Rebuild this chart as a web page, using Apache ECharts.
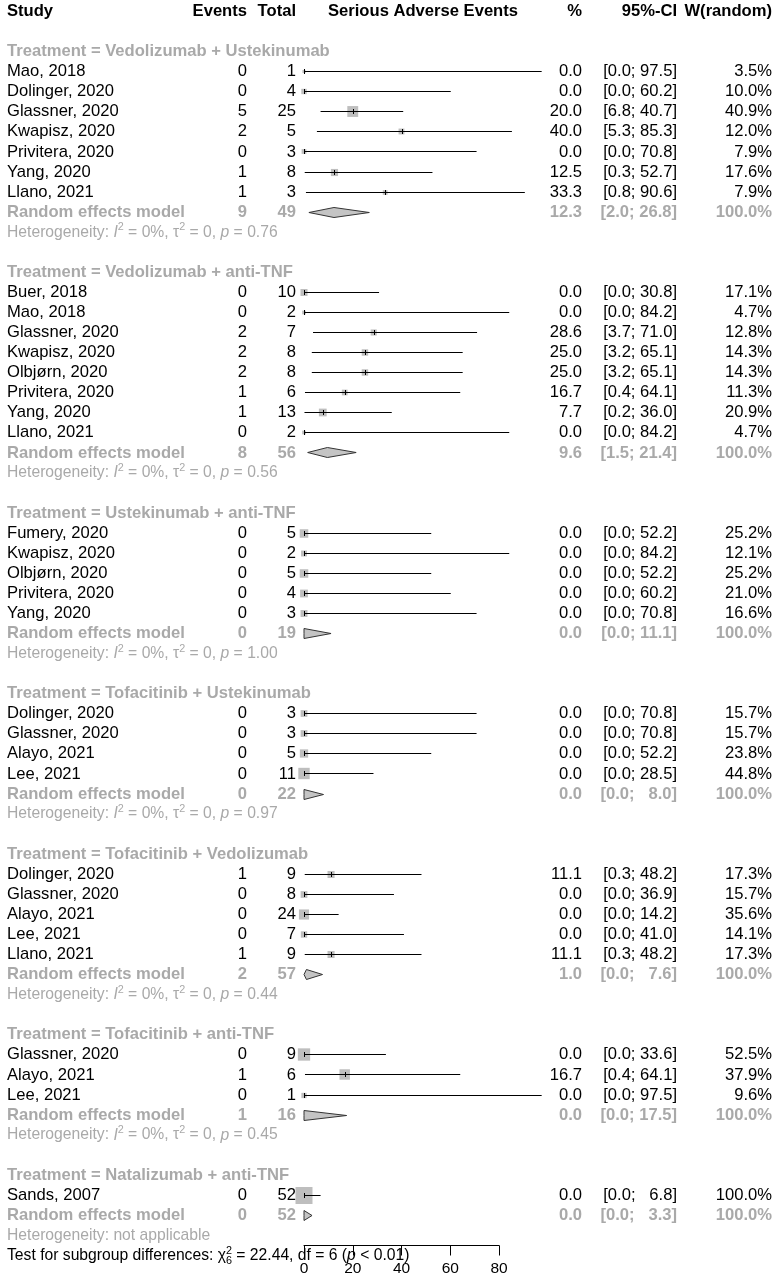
<!DOCTYPE html>
<html>
<head>
<meta charset="utf-8">
<script src="https://cdn.jsdelivr.net/npm/echarts@6/dist/echarts.min.js"></script>
<style>
  html, body { margin: 0; padding: 0; background: #fff; }
  #main { width: 777px; height: 1287px; }
</style>
</head>
<body>
<div id="main"></div>
<script>
// subgroups
var groupNames = ['Vedolizumab + Ustekinumab', 'Vedolizumab + anti-TNF', 'Ustekinumab + anti-TNF',
  'Tofacitinib + Ustekinumab', 'Tofacitinib + Vedolizumab', 'Tofacitinib + anti-TNF', 'Natalizumab + anti-TNF'];

// single studies
var studyNames = [
  'Mao, 2018', 'Dolinger, 2020', 'Glassner, 2020', 'Kwapisz, 2020', 'Privitera, 2020', 'Yang, 2020', 'Llano, 2021',
  'Buer, 2018', 'Mao, 2018', 'Glassner, 2020', 'Kwapisz, 2020', 'Olbjørn, 2020', 'Privitera, 2020', 'Yang, 2020', 'Llano, 2021',
  'Fumery, 2020', 'Kwapisz, 2020', 'Olbjørn, 2020', 'Privitera, 2020', 'Yang, 2020',
  'Dolinger, 2020', 'Glassner, 2020', 'Alayo, 2021', 'Lee, 2021',
  'Dolinger, 2020', 'Glassner, 2020', 'Alayo, 2021', 'Lee, 2021', 'Llano, 2021',
  'Glassner, 2020', 'Alayo, 2021', 'Lee, 2021',
  'Sands, 2007'
];
var studyGroup = [0, 0, 0, 0, 0, 0, 0, 1, 1, 1, 1, 1, 1, 1, 1, 2, 2, 2, 2, 2, 3, 3, 3, 3, 4, 4, 4, 4, 4, 5, 5, 5, 6];
var events = [0, 0, 5, 2, 0, 1, 1, 0, 0, 2, 2, 2, 1, 1, 0, 0, 0, 0, 0, 0, 0, 0, 0, 0, 1, 0, 0, 0, 1, 0, 1, 0, 0];
var totals = [1, 4, 25, 5, 3, 8, 3, 10, 2, 7, 8, 8, 6, 13, 2, 5, 2, 5, 4, 3, 3, 3, 5, 11, 9, 8, 24, 7, 9, 9, 6, 1, 52];
var estimates = [0, 0, 20.0, 40.0, 0, 12.5, 33.3, 0, 0, 28.6, 25.0, 25.0, 16.7, 7.7, 0, 0, 0, 0, 0, 0,
  0, 0, 0, 0, 11.1, 0, 0, 0, 11.1, 0, 16.7, 0, 0];
var lowers = [0, 0, 6.8, 5.3, 0, 0.3, 0.8, 0, 0, 3.7, 3.2, 3.2, 0.4, 0.2, 0, 0, 0, 0, 0, 0,
  0, 0, 0, 0, 0.3, 0, 0, 0, 0.3, 0, 0.4, 0, 0];
var uppers = [97.5, 60.2, 40.7, 85.3, 70.8, 52.7, 90.6, 30.8, 84.2, 71.0, 65.1, 65.1, 64.1, 36.0, 84.2,
  52.2, 84.2, 52.2, 60.2, 70.8, 70.8, 70.8, 52.2, 28.5, 48.2, 36.9, 14.2, 41.0, 48.2, 33.6, 64.1, 97.5, 6.8];
var weights = [3.5, 10.0, 40.9, 12.0, 7.9, 17.6, 7.9, 17.1, 4.7, 12.8, 14.3, 14.3, 11.3, 20.9, 4.7,
  25.2, 12.1, 25.2, 21.0, 16.6, 15.7, 15.7, 23.8, 44.8, 17.3, 15.7, 35.6, 14.1, 17.3, 52.5, 37.9, 9.6, 100.0];

// random effects model per subgroup
var poolEvents = [9, 8, 0, 0, 2, 1, 0];
var poolTotals = [49, 56, 19, 22, 57, 16, 52];
var poolEst = [12.3, 9.6, 0.0, 0.0, 1.0, 0.0, 0.0];
var poolLower = [2.0, 1.5, 0.0, 0.0, 0.0, 0.0, 0.0];
var poolUpper = [26.8, 21.4, 11.1, 8.0, 7.6, 17.5, 3.3];
var hetI2 = ['0%', '0%', '0%', '0%', '0%', '0%', null];
var hetTau2 = ['0', '0', '0', '0', '0', '0', null];
var hetP = ['0.76', '0.56', '1.00', '0.97', '0.44', '0.45', null];

var testChi2 = '22.44', testDf = '6', testP = '< 0.01';
var xTicks = [0, 20, 40, 60, 80];

var FONT = '"Liberation Sans", Arial, sans-serif';
var GRAY = '#a9a9a9';
var FS = 16.6, FS_SMALL = 15.7, FS_SUP = 10.8;
var COL = { study: 7, events: 247, total: 296, plot: 423, est: 582, ci: 677, w: 772 };

function fmtCI(lo, hi) {
  var h = hi.toFixed(1);
  if (hi < 10) h = '  ' + h;
  return '[' + lo.toFixed(1) + '; ' + h + ']';
}

function txt(x, y, s, align, bold, color, size) {
  return {
    type: 'text', x: x, y: y,
    style: {
      text: s, textAlign: align, textVerticalAlign: 'middle',
      font: (bold ? 'bold ' : '') + (size || FS) + 'px ' + FONT,
      fill: color || '#000'
    }
  };
}

// text made of pieces (italic, superscripts) placed one after another
var measureCtx = document.createElement('canvas').getContext('2d');
function runs(x, y, parts, color) {
  var out = [];
  parts.forEach(function (p) {
    var font = (p.italic ? 'italic ' : '') + p.size + 'px ' + FONT;
    out.push({
      type: 'text', x: x, y: y + (p.dy || 0),
      style: { text: p.t, textAlign: 'left', textVerticalAlign: 'middle', font: font, fill: color }
    });
    measureCtx.font = font;
    if (!p.stack) x += measureCtx.measureText(p.t).width;
  });
  return out;
}

// row layout
var headerRows = [], studyRows = [], poolRows = [], hetRows = [];
var r = 2;
groupNames.forEach(function (g, gi) {
  headerRows.push([0, r, gi]); r++;
  studyGroup.forEach(function (sg, si) {
    if (sg === gi) { studyRows.push([estimates[si], r, si]); r++; }
  });
  poolRows.push([poolEst[gi], r, gi]); r++;
  hetRows.push([0, r, gi]); r++;
  r++;
});
var testRow = r - 1;

var chart = echarts.init(document.getElementById('main'), null, { renderer: 'canvas' });

chart.setOption({
  animation: false,
  grid: { left: 304, right: 278, top: 11.5, bottom: 41.5 },
  xAxis: {
    type: 'value',
    position: 'bottom',
    min: xTicks[0],
    max: xTicks[xTicks.length - 1],
    interval: xTicks[1] - xTicks[0],
    splitLine: { show: false },
    axisLine: { onZero: false, lineStyle: { color: '#000', width: 1 } },
    axisTick: { length: 10, lineStyle: { color: '#000' } },
    axisLabel: { color: '#000', fontSize: 15.5, fontFamily: FONT, margin: 15 }
  },
  yAxis: { type: 'value', inverse: true, min: 0, max: 61.5, show: false },
  series: [
    {
      // column headers, subgroup titles
      type: 'custom',
      data: [[0, 0, -1]].concat(headerRows),
      encode: { x: 0, y: 1 },
      renderItem: function (params, api) {
        var y = api.coord([0, api.value(1)])[1];
        var gi = api.value(2);
        if (gi < 0) {
          return {
            type: 'group', children: [
              txt(COL.study, y, 'Study', 'left', true),
              txt(COL.events, y, 'Events', 'right', true),
              txt(COL.total, y, 'Total', 'right', true),
              txt(COL.plot, y, 'Serious Adverse Events', 'center', true),
              txt(COL.est, y, '%', 'right', true),
              txt(COL.ci, y, '95%-CI', 'right', true),
              txt(COL.w, y, 'W(random)', 'right', true)
            ]
          };
        }
        return txt(COL.study, y, 'Treatment = ' + groupNames[gi], 'left', true, GRAY);
      }
    },
    {
      type: 'custom',
      data: hetRows,
      encode: { x: 0, y: 1 },
      renderItem: function (params, api) {
        var y = api.coord([0, api.value(1)])[1];
        var gi = api.value(2);
        var parts;
        if (hetP[gi] === null) {
          parts = [{ t: 'Heterogeneity: not applicable', size: FS_SMALL }];
        } else {
          parts = [
            { t: 'Heterogeneity: ', size: FS_SMALL },
            { t: 'I', size: FS_SMALL, italic: true },
            { t: '2', size: FS_SUP, dy: -5 },
            { t: ' = ' + hetI2[gi] + ', ', size: FS_SMALL },
            { t: 'τ', size: FS_SMALL },
            { t: '2', size: FS_SUP, dy: -5 },
            { t: ' = ' + hetTau2[gi] + ', ', size: FS_SMALL },
            { t: 'p', size: FS_SMALL, italic: true },
            { t: ' = ' + hetP[gi], size: FS_SMALL }
          ];
        }
        return { type: 'group', children: runs(COL.study, y, parts, GRAY) };
      }
    },
    {
      type: 'custom',
      data: [[0, testRow]],
      encode: { x: 0, y: 1 },
      renderItem: function (params, api) {
        var y = api.coord([0, api.value(1)])[1];
        var parts = [
          { t: 'Test for subgroup differences: ', size: FS_SMALL },
          { t: 'χ', size: FS_SMALL },
          { t: '2', size: FS_SUP, dy: -5, stack: true },
          { t: testDf, size: FS_SUP, dy: 5 },
          { t: ' = ' + testChi2 + ', df = ' + testDf + ' (', size: FS_SMALL },
          { t: 'p', size: FS_SMALL, italic: true },
          { t: ' ' + testP + ')', size: FS_SMALL }
        ];
        return { type: 'group', children: runs(COL.study, y, parts, '#000') };
      }
    },
    {
      // study rows: CI line, weighted square, texts
      type: 'custom',
      data: studyRows,
      encode: { x: 0, y: 1 },
      renderItem: function (params, api) {
        var row = api.value(1), si = api.value(2);
        var y = api.coord([0, row])[1];
        var ly = Math.floor(y) + 0.5;
        var xe = api.coord([estimates[si], row])[0];
        var xl = api.coord([lowers[si], row])[0];
        var xu = api.coord([uppers[si], row])[0];
        var side = 17 * Math.sqrt(weights[si] / 100);
        return {
          type: 'group', children: [
            { type: 'rect', shape: { x: xe - side / 2, y: ly - side / 2, width: side, height: side }, style: { fill: '#bebebe' } },
            { type: 'line', shape: { x1: xl, y1: ly, x2: xu, y2: ly }, style: { stroke: '#000', lineWidth: 1 } },
            { type: 'line', shape: { x1: Math.round(xe) + 0.5, y1: ly - 2.5, x2: Math.round(xe) + 0.5, y2: ly + 2.5 }, style: { stroke: '#000', lineWidth: 1 } },
            txt(COL.study, y, studyNames[si], 'left'),
            txt(COL.events, y, String(events[si]), 'right'),
            txt(COL.total, y, String(totals[si]), 'right'),
            txt(COL.est, y, estimates[si].toFixed(1), 'right'),
            txt(COL.ci, y, fmtCI(lowers[si], uppers[si]), 'right'),
            txt(COL.w, y, weights[si].toFixed(1) + '%', 'right')
          ]
        };
      }
    },
    {
      // random effects model per subgroup
      type: 'custom',
      data: poolRows,
      encode: { x: 0, y: 1 },
      renderItem: function (params, api) {
        var row = api.value(1), gi = api.value(2);
        var y = api.coord([0, row])[1];
        var ly = Math.floor(y) + 0.5;
        var xe = api.coord([poolEst[gi], row])[0];
        var xl = api.coord([poolLower[gi], row])[0];
        var xu = api.coord([poolUpper[gi], row])[0];
        return {
          type: 'group', children: [
            { type: 'polygon', shape: { points: [[xl, ly], [xe, ly - 5], [xu, ly], [xe, ly + 5]] }, style: { fill: '#c4c4c4', stroke: '#333', lineWidth: 1 } },
            txt(COL.study, y, 'Random effects model', 'left', true, GRAY),
            txt(COL.events, y, String(poolEvents[gi]), 'right', true, GRAY),
            txt(COL.total, y, String(poolTotals[gi]), 'right', true, GRAY),
            txt(COL.est, y, poolEst[gi].toFixed(1), 'right', true, GRAY),
            txt(COL.ci, y, fmtCI(poolLower[gi], poolUpper[gi]), 'right', true, GRAY),
            txt(COL.w, y, '100.0%', 'right', true, GRAY)
          ]
        };
      }
    }
  ]
});
</script>
</body>
</html>
